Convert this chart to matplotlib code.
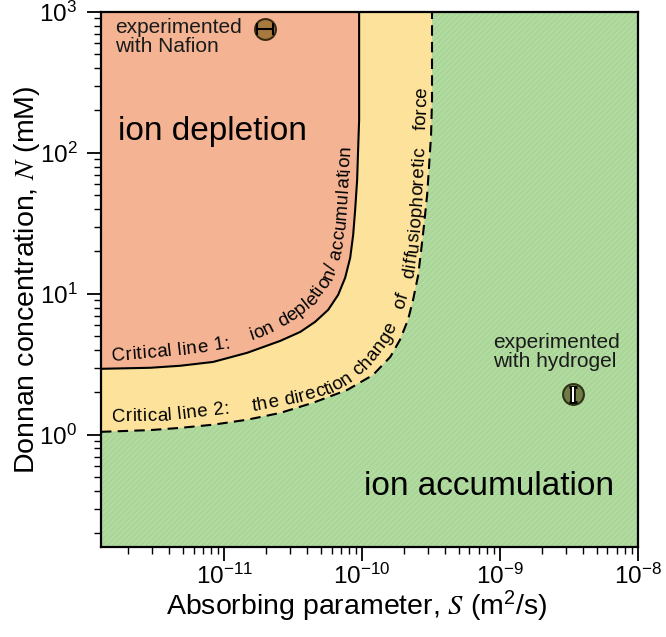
import numpy as np
import matplotlib
matplotlib.use('Agg')
import matplotlib.pyplot as plt
from matplotlib import _text_helpers
from matplotlib.patches import Rectangle
from matplotlib.font_manager import FontProperties, findfont, get_font
from matplotlib.ticker import LogLocator, NullFormatter, FixedLocator

plt.rcParams['font.family'] = ['Liberation Sans', 'DejaVu Sans']
plt.rcParams['mathtext.fontset'] = 'stix'
plt.rcParams['hatch.linewidth'] = 0.6

# critical line 1 (solid): ion depletion / accumulation
s_line1 = [1.28e-12, 2.91e-12, 4.80e-12, 8.32e-12, 1.47e-11, 2.55e-11, 3.56e-11,
           4.56e-11, 5.67e-11, 6.70e-11, 7.53e-11, 8.19e-11, 8.61e-11, 8.90e-11,
           9.20e-11, 9.35e-11, 9.51e-11, 9.51e-11]
n_line1 = [2.94, 2.99, 3.09, 3.29, 3.82, 4.64, 5.37, 6.33, 7.70, 9.84, 13.0,
           18.0, 26.2, 39.4, 64.3, 105, 171, 1000]

# critical line 2 (dashed): direction change of diffusiophoretic force
s_line2 = [1.28e-12, 2.91e-12, 4.80e-12, 8.32e-12, 1.47e-11, 2.55e-11, 4.42e-11,
           7.79e-11, 1.20e-10, 1.60e-10, 1.88e-10, 2.15e-10, 2.34e-10, 2.55e-10,
           2.68e-10, 2.81e-10, 2.96e-10, 3.06e-10, 3.16e-10, 3.21e-10, 3.21e-10]
n_line2 = [1.05, 1.08, 1.12, 1.18, 1.28, 1.43, 1.69, 2.08, 2.66, 3.57, 4.72,
           6.54, 9.06, 13.6, 20.5, 30.9, 50.4, 82.2, 134, 238, 1000]

# experiments
nafion_s, nafion_n, nafion_s_err = [1.98e-11], [760], [0.26e-11]
hydrogel_s, hydrogel_n, hydrogel_n_err = [3.4e-9], [1.95], [0.23]

x_lim = (1.28e-12, 1e-8)
y_lim = (0.16, 1000)
x_ticks = [1e-11, 1e-10, 1e-9, 1e-8]
y_ticks = [1, 10, 100, 1000]

label1 = "Critical line 1:    ion depletion/ accumulation"
label2 = "Critical line 2:    the direction change   of   diffusiophoretic   force"

# baselines of the curved labels, in axes fraction
path1 = [(0.020, 0.348), (0.110, 0.355), (0.184, 0.363), (0.240, 0.372),
         (0.296, 0.391), (0.352, 0.419), (0.399, 0.456), (0.430, 0.499),
         (0.447, 0.546), (0.456, 0.611), (0.462, 0.686), (0.466, 0.779)]
path2 = [(0.020, 0.234), (0.128, 0.237), (0.235, 0.249), (0.296, 0.256),
         (0.371, 0.271), (0.426, 0.286), (0.464, 0.307), (0.501, 0.340),
         (0.538, 0.387), (0.562, 0.437), (0.579, 0.490), (0.590, 0.555),
         (0.598, 0.649), (0.603, 0.742), (0.607, 0.854), (0.609, 0.95)]

c_orange = '#f4b494'
c_yellow = '#fde29b'
c_green = '#aad698'


def curved_text(ax, text, path, size, track=0.0):
    fig = ax.figure
    renderer = fig.canvas.get_renderer()
    prop = FontProperties(family='Liberation Sans', size=size)
    pts = ax.transAxes.transform(np.array(path))
    seg = np.diff(pts, axis=0)
    seglen = np.hypot(seg[:, 0], seg[:, 1])
    cum = np.r_[0, np.cumsum(seglen)]

    # pen positions of each glyph (with kerning), scaled to rendered width
    font = get_font(findfont(prop))
    font.set_size(size, fig.dpi)
    xs = [it.x for it in _text_helpers.layout(text + '|', font)]
    w_full = (renderer.get_text_width_height_descent('|' + text + '|', prop, False)[0]
              - renderer.get_text_width_height_descent('||', prop, False)[0])
    scale = w_full / xs[-1] if xs[-1] > 0 else 1.0
    xs = np.array(xs) * scale

    def point(s):
        s = np.clip(s, 0, cum[-1])
        k = int(np.clip(np.searchsorted(cum, s) - 1, 0, len(seg) - 1))
        return pts[k] + (s - cum[k]) / seglen[k] * seg[k]

    for i, ch in enumerate(text):
        if ch == ' ':
            continue
        s = (xs[i] + xs[i + 1]) / 2 + track * i
        p = point(s)
        d = point(s + 5) - point(s - 5)
        ang = np.degrees(np.arctan2(d[1], d[0]))
        xy = ax.transAxes.inverted().transform(p)
        ax.text(xy[0], xy[1], ch, transform=ax.transAxes, rotation=ang,
                rotation_mode='anchor', ha='center', va='baseline',
                fontproperties=prop, zorder=6)


fig = plt.figure(figsize=(6.66, 6.37), dpi=100)
ax = fig.add_axes([0.1517, 0.1413, 0.8063, 0.8399])
ax.set_xscale('log')
ax.set_yscale('log')
ax.set_xlim(*x_lim)
ax.set_ylim(*y_lim)

# background (accumulation) with fine hatching
ax.set_facecolor(c_green)
ax.add_patch(Rectangle((0, 0), 1, 1, transform=ax.transAxes, fill=False,
                       edgecolor='#bde0ad', hatch='//////', lw=0, zorder=0.5))

# yellow band and orange depletion region
ax.fill(s_line2 + [x_lim[0]], n_line2 + [y_lim[1]], color=c_yellow, lw=0, zorder=1)
ax.fill(s_line1 + [x_lim[0]], n_line1 + [y_lim[1]], color=c_orange, lw=0, zorder=1.1)

ax.plot(s_line1, n_line1, color='k', lw=1.5, zorder=3)
ax.plot(s_line2, n_line2, color='k', lw=1.5, ls=(0, (5, 3)), zorder=3)

# experiment markers
ax.plot(nafion_s, nafion_n, 'o', ms=15, mfc='#a87a3e', mec='#3a2a12', mew=1.5, zorder=4)
ax.errorbar(nafion_s, nafion_n, xerr=nafion_s_err, fmt='none', ecolor='k',
            elinewidth=1.5, capsize=4, capthick=1.5, zorder=5)
ax.plot(hydrogel_s, hydrogel_n, 'o', ms=15, mfc='#6f7c45', mec='#2c3318', mew=1.5, zorder=4)
ax.errorbar(hydrogel_s, hydrogel_n, yerr=hydrogel_n_err, fmt='none', ecolor='k',
            elinewidth=4, capsize=3, capthick=2, zorder=5)
ax.errorbar(hydrogel_s, hydrogel_n, yerr=hydrogel_n_err, fmt='none', ecolor='w',
            elinewidth=1.5, zorder=5.1)

# texts
ax.text(0.032, 0.761, 'ion depletion', transform=ax.transAxes, fontsize=24, zorder=6)
ax.text(0.955, 0.097, 'ion accumulation', transform=ax.transAxes, fontsize=24,
        ha='right', zorder=6)
ax.text(0.026, 0.989, 'experimented\nwith Nafion', transform=ax.transAxes,
        fontsize=15, va='top', linespacing=1.0, color='#1a1a1a', zorder=6)
ax.text(0.730, 0.400, 'experimented\nwith hydrogel', transform=ax.transAxes,
        fontsize=15, va='top', linespacing=1.0, color='#1a1a1a', zorder=6)

curved_text(ax, label1, path1, 13.5, track=0.45)
curved_text(ax, label2, path2, 13.5, track=0.4)

# axes styling
for sp in ax.spines.values():
    sp.set_linewidth(1.6)
    sp.set_zorder(7)
ax.xaxis.set_major_locator(FixedLocator(x_ticks))
ax.yaxis.set_major_locator(FixedLocator(y_ticks))
ax.set_xticklabels(['$\\mathregular{10^{%d}}$' % round(np.log10(v)) for v in x_ticks])
ax.set_yticklabels(['$\\mathregular{10^{%d}}$' % round(np.log10(v)) for v in y_ticks])
ax.xaxis.set_minor_locator(LogLocator(base=10, subs=np.arange(2, 10)))
ax.yaxis.set_minor_locator(LogLocator(base=10, subs=np.arange(2, 10)))
ax.xaxis.set_minor_formatter(NullFormatter())
ax.yaxis.set_minor_formatter(NullFormatter())
ax.tick_params(which='major', direction='out', length=10, width=1.3, labelsize=17.5)
ax.tick_params(which='minor', direction='out', length=5, width=1.0)
ax.tick_params(axis='x', which='major', pad=2)
ax.tick_params(axis='y', which='major', pad=7)

ax.set_xlabel('Absorbing parameter, $S$ ($\\mathregular{m^2}$/s)', fontsize=20.5)
ax.set_ylabel('Donnan concentration, $N$ (mM)', fontsize=20.5)
ax.xaxis.set_label_coords(0.477, -0.078)
ax.yaxis.set_label_coords(-0.11, 0.5)

fig.savefig('out.png', dpi=100)
